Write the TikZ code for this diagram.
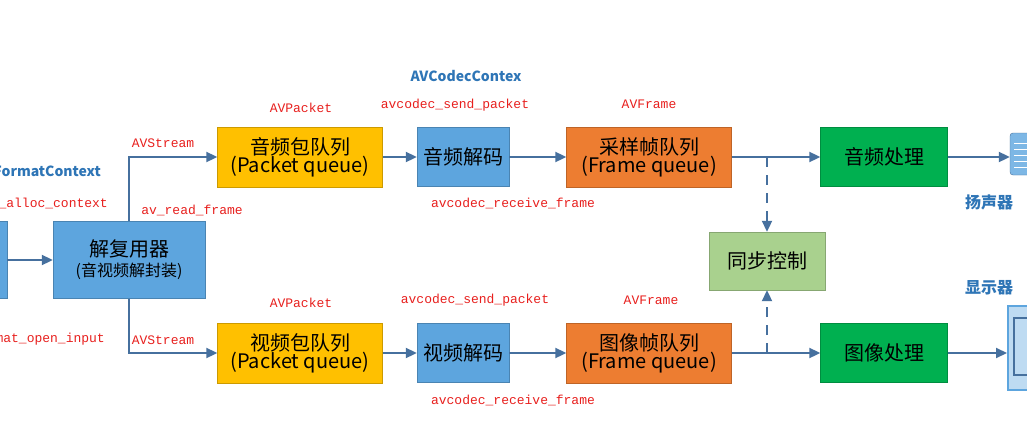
\documentclass[tikz,border=0pt]{standalone}
\usepackage{fontspec}
\setmainfont{Noto Sans CJK SC}
\newfontfamily\monof{Liberation Mono}
\usetikzlibrary{arrows.meta}
\definecolor{ln}{HTML}{46709E}
\definecolor{bl}{HTML}{5DA5DE}
\definecolor{ye}{HTML}{FFC000}
\definecolor{orr}{HTML}{ED7D31}
\definecolor{gr}{HTML}{00B050}
\definecolor{lg}{HTML}{A9D18E}
\definecolor{rd}{HTML}{E8201E}
\definecolor{tb}{HTML}{2E75B6}
\tikzset{
 bx/.style={draw=#1!80!black,line width=0.4pt,fill=#1,inner sep=0pt,align=center,font=\fontsize{20}{22}\selectfont},
 arr/.style={draw=ln,line width=2pt,-{Triangle[length=11pt,width=10pt]}},
 dsh/.style={draw=ln,line width=2pt,dash pattern=on 10pt off 8pt,-{Triangle[length=11pt,width=10pt]}},
 lb/.style={text=rd,font=\monof\fontsize{13}{15}\selectfont,inner sep=0pt},
 bb/.style={text=tb,font=\bfseries\fontsize{14}{16}\selectfont,inner sep=0pt},
}
\begin{document}
\begin{tikzpicture}[x=1pt,y=-1pt]
\useasboundingbox (0,0) rectangle (1027,436);
\clip (0,0) rectangle (1027,436);
\fill[white] (0,0) rectangle (1027,436);
\node[bx=bl,minimum width=40,minimum height=77,anchor=east] (src) at (7,260) {};
\node[bx=bl,minimum width=152,minimum height=77] (dmx) at (129,260) {解复用器\\[-2pt]{\fontsize{16}{18}\selectfont (音视频解封装)}};
\foreach \n/\y/\a/\b/\c in {a/157/音频包队列/音频解码/采样帧队列, v/353/视频包队列/视频解码/图像帧队列}{
 \node[bx=ye,minimum width=165,minimum height=60] (\n pq) at (300,\y) {\a\\[-4pt](Packet queue)};
 \node[bx=bl,minimum width=92,minimum height=59] (\n dec) at (463,\y) {\b};
 \node[bx=orr,minimum width=165,minimum height=60] (\n fq) at (649,\y) {\c\\[-4pt](Frame queue)};
}
\node[bx=gr,minimum width=127,minimum height=59] (ap) at (884,157) {音频处理};
\node[bx=gr,minimum width=127,minimum height=59] (vp) at (884,353) {图像处理};
\node[bx=lg,minimum width=116,minimum height=58] (sync) at (767,261) {同步控制};
\node[draw=ln,fill=bl!80,rounded corners=3pt,minimum width=20,minimum height=42,inner sep=0pt] (spk) at (1020,154) {};
\foreach \yy in {143,149,155,161,167} \draw[white,line width=1pt] (1014,\yy) -- (1027,\yy);
\node[draw=bl,fill=bl!40,line width=2pt,minimum width=28,minimum height=84,inner sep=0pt] (mon) at (1022,348) {};
\draw[ln,line width=1.5pt] (1014,318) rectangle (1030,375);
\coordinate (src e) at (7,260);
\draw[arr] (src e) -- (dmx.west);
\draw[arr] (dmx.north) |- (apq.west);
\draw[arr] (dmx.south) |- (vpq.west);
\foreach \n in {a,v}{
 \draw[arr] (\n pq) -- (\n dec);
 \draw[arr] (\n dec) -- (\n fq);
}
\draw[arr] (afq) -- (ap);
\draw[arr] (vfq) -- (vp);
\draw[arr] (ap) -- (ap.east -| spk.west);
\draw[arr] (vp) -- (vp.east -| mon.west);
\coordinate (ja) at (sync.north |- afq.east);
\coordinate (jv) at (sync.south |- vfq.east);
\draw[dsh] (ja) -- (sync.north);
\draw[dsh] (jv) -- (sync.south);
\node[bb] (ctx) at (466,76) {AVCodecContex};
\node[bb,anchor=east] (fc) at (101,171) {AVFormatContext};
\node[lb,anchor=east] (l1) at (108,203) {avformat\_alloc\_context};
\node[lb,anchor=east] (l2) at (105,339) {avformat\_open\_input};
\node[lb] (s1) at (163,143) {AVStream};
\node[lb] (s2) at (163,340) {AVStream};
\node[lb] (rf) at (192,210) {av\_read\_frame};
\node[lb] (p1) at (301,108) {AVPacket};
\node[lb] (p2) at (301,303) {AVPacket};
\node[lb] (sp1) at (455,105) {avcodec\_send\_packet};
\node[lb] (sp2) at (475,300) {avcodec\_send\_packet};
\node[lb] (f1) at (649,104) {AVFrame};
\node[lb] (f2) at (651,300) {AVFrame};
\node[lb] (r1) at (513,203) {avcodec\_receive\_frame};
\node[lb] (r2) at (513,400) {avcodec\_receive\_frame};
\node[bb,font=\bfseries\fontsize{16}{18}\selectfont] (spkl) at (989,202) {扬声器};
\node[bb,font=\bfseries\fontsize{16}{18}\selectfont] (monl) at (989,288) {显示器};
\end{tikzpicture}
\end{document}
